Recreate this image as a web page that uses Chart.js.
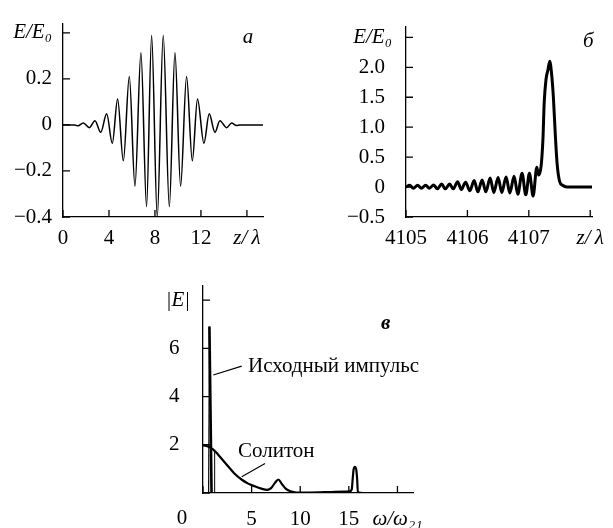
<!DOCTYPE html>
<html lang="ru">
<head>
<meta charset="UTF-8">
<title>Импульс и солитон</title>
<script src="https://cdn.jsdelivr.net/npm/chart.js@4"></script>
<style>
  body { margin: 0; background: #fff; }
  .wrap { position: relative; width: 613px; height: 528px; }
  canvas { position: absolute; }
  #chart-a { left: 0; top: 0; }
  #chart-b { left: 300px; top: 0; }
  #chart-c { left: 100px; top: 260px; }
</style>
</head>
<body>
<div class="wrap">
  <canvas id="chart-a" width="300" height="260"></canvas>
  <canvas id="chart-b" width="313" height="260"></canvas>
  <canvas id="chart-c" width="400" height="268"></canvas>
</div>
<script>
// --- panel а: initial pulse, E/E0 vs z/λ
const zA = [0, 1.0, 1.3, 1.77, 2.29, 2.78, 3.28, 3.8, 4.29, 4.75, 5.25, 5.77, 6.26, 6.78, 7.27, 7.71, 8.2,
            8.72, 9.25, 9.74, 10.23, 10.75, 11.25, 11.7, 12.26, 12.72, 13.22, 13.65, 14.23, 14.67, 15.1, 15.4, 17.4];
const eA = [0, 0, -0.004, 0.008, -0.012, 0.018, -0.032, 0.048, -0.08, 0.113, -0.156, 0.21, -0.266, 0.313, -0.355, 0.388, -0.40,
            0.388, -0.355, 0.313, -0.266, 0.21, -0.156, 0.113, -0.08, 0.048, -0.032, 0.018, -0.012, 0.008, -0.003, 0, 0];
const aXTicks = [0, 4, 8, 12, 16];
const aXLabels = ['0', '4', '8', '12', 'z/\u2009λ'];
const aYTicks = [-0.4, -0.2, 0, 0.2, 0.4];
const aYLabels = ['−0.4', '−0.2', '0', '0.2', 'E/E₀'];

// --- panel б: soliton after propagation
const zB = [4105.0, 4105.06, 4105.12, 4105.19, 4105.25, 4105.32, 4105.38, 4105.45, 4105.51, 4105.58, 4105.64, 4105.71,
            4105.77, 4105.84, 4105.90, 4105.97, 4106.04, 4106.11, 4106.17, 4106.24, 4106.30, 4106.37, 4106.43, 4106.50,
            4106.56, 4106.63, 4106.69, 4106.76, 4106.82, 4106.89, 4106.95, 4107.01, 4107.07, 4107.13, 4107.16, 4107.2,
            4107.23, 4107.25, 4107.28, 4107.31, 4107.34, 4107.37, 4107.4, 4107.43, 4107.46, 4107.5, 4107.55, 4107.62, 4108.03];
const eB = [0, 0.03, -0.02, 0.03, -0.02, 0.03, -0.02, 0.035, -0.03, 0.05, -0.03, 0.05,
            -0.03, 0.09, -0.04, 0.08, -0.06, 0.11, -0.08, 0.12, -0.08, 0.15, -0.09, 0.16,
            -0.09, 0.17, -0.1, 0.18, -0.12, 0.23, -0.13, 0.23, -0.15, 0.33, 0.2, 0.35,
            0.8, 1.4, 1.8, 1.95, 2.1, 1.9, 1.5, 0.9, 0.4, 0.1, 0.03, 0, 0];
const bXTicks = [4105, 4106, 4107, 4108];
const bXLabels = ['4105', '4106', '4107', 'z/\u2009λ'];
const bYTicks = [-0.5, 0, 0.5, 1, 1.5, 2, 2.5];
const bYLabels = ['−0.5', '0', '0.5', '1.0', '1.5', '2.0', 'E/E₀'];

// --- panel в: spectra |E| vs ω/ω21
const wSol = [0, 0.5, 1.0, 1.5, 2.0, 2.6, 3.2, 4.0, 4.6, 5.3, 6.0, 6.6, 7.0, 7.4, 7.75, 8.1, 8.5, 9.0, 9.6, 11,
              13, 14.5, 15.1, 15.3, 15.4, 15.5, 15.62, 15.75, 15.85, 15.93, 16.5, 21.6];
const eSol = [1.97, 1.93, 1.82, 1.62, 1.38, 1.1, 0.82, 0.55, 0.4, 0.28, 0.18, 0.13, 0.2, 0.42, 0.56, 0.38, 0.18, 0.07, 0.02, 0.02,
              0.04, 0.06, 0.07, 0.15, 0.6, 1.0, 1.08, 1.0, 0.6, 0.03, 0, 0];
const wPulse = [0.58, 0.66, 0.88, 1.2, 1.2];
const ePulse = [0, 6.9, 0, 0, 1.77];
const pulseWidths = [1.2, 2.6, 1, 1];
const cXTicks = [0, 5, 10, 15, 20];
const cXLabels = ['0', '5', '10', '15', 'ω/ω₂₁'];
const cYTicks = [0, 2, 4, 6, 8];
const cYLabels = ['', '2', '4', '6', '|E|'];

const SERIF = "'Liberation Serif', 'Times New Roman', serif";
Chart.defaults.font.family = SERIF;
Chart.defaults.color = '#000';

const pts = (xs, ys) => xs.map((v, i) => ({ x: v, y: ys[i] }));

// tick marks pointing into the plot
const innerTicks = {
  id: 'innerTicks',
  afterDatasetsDraw(chart, args, opts) {
    const { ctx, chartArea, scales } = chart;
    const len = opts.length || 7;
    ctx.save();
    ctx.strokeStyle = '#000';
    ctx.lineWidth = 1.3;
    ctx.beginPath();
    scales.x.ticks.forEach(t => {
      const px = scales.x.getPixelForValue(t.value);
      ctx.moveTo(px, chartArea.bottom);
      ctx.lineTo(px, chartArea.bottom - len);
    });
    scales.y.ticks.forEach(t => {
      const py = scales.y.getPixelForValue(t.value);
      ctx.moveTo(chartArea.left, py);
      ctx.lineTo(chartArea.left + len, py);
    });
    ctx.stroke();
    ctx.restore();
  }
};

// panel letters, captions and pointer lines, placed in data units
const notes = {
  id: 'notes',
  afterDatasetsDraw(chart, args, opts) {
    const { ctx, scales: { x, y } } = chart;
    ctx.save();
    ctx.fillStyle = '#000';
    ctx.strokeStyle = '#000';
    ctx.lineWidth = 1.1;
    (opts.lines || []).forEach(([x1, y1, x2, y2]) => {
      ctx.beginPath();
      ctx.moveTo(x.getPixelForValue(x1), y.getPixelForValue(y1));
      ctx.lineTo(x.getPixelForValue(x2), y.getPixelForValue(y2));
      ctx.stroke();
    });
    (opts.texts || []).forEach(t => {
      ctx.font = t.font;
      ctx.textAlign = t.align || 'left';
      ctx.textBaseline = t.baseline || 'alphabetic';
      ctx.fillText(t.text, x.getPixelForValue(t.x) + (t.dx || 0), y.getPixelForValue(t.y) + (t.dy || 0));
    });
    ctx.restore();
  }
};

function axis(min, max, ticks, labels, pad, size, isX, extra = {}) {
  const last = labels.length - 1;
  return {
    type: 'linear', min, max,
    afterBuildTicks: s => { s.ticks = ticks.map(v => ({ value: v })); },
    afterFit: s => { if (isX) s.height = size; else s.width = size; },
    grid: { display: false, drawTicks: false },
    border: { display: true, color: '#000', width: 1.3 },
    ticks: {
      padding: pad, color: '#000', maxRotation: 0, autoSkip: false,
      callback: (v, i) => (extra.hideFirst && i === 0) ? '' : labels[i] + (i < last && extra.tail ? extra.tail : ''),
      font: ctx => ({ family: SERIF, size: 21, style: ctx.index === last ? 'italic' : 'normal' })
    }
  };
}

function baseOptions(padding, scales, notesOpts) {
  return {
    responsive: false, animation: false,
    layout: { padding },
    scales,
    plugins: { legend: { display: false }, tooltip: { enabled: false }, notes: notesOpts, innerTicks: { length: 7 } },
    elements: { point: { radius: 0 } }
  };
}

new Chart(document.getElementById('chart-a'), {
  type: 'line',
  data: { datasets: [{
    data: pts(zA, eA), borderColor: '#000', borderWidth: 1.5,
    cubicInterpolationMode: 'monotone', fill: false
  }] },
  options: baseOptions({ left: 0, top: 12, right: 37, bottom: 0 }, {
    x: axis(0, 17.4, aXTicks, aXLabels, 9, 43, true),
    y: axis(-0.4, 0.44, aYTicks, aYLabels, 11, 63, false)
  }, {
    texts: [{ text: 'а', x: 16.1, y: 0.355, align: 'center', font: 'italic 21px ' + SERIF }]
  }),
  plugins: [innerTicks, notes]
});

new Chart(document.getElementById('chart-b'), {
  type: 'line',
  data: { datasets: [{
    data: pts(zB, eB), borderColor: '#000', borderWidth: 3,
    cubicInterpolationMode: 'monotone', fill: false
  }] },
  options: baseOptions({ left: 0, top: 10, right: 12, bottom: 0 }, {
    x: axis(4105, 4108.03, bXTicks, bXLabels, 9, 43, true),
    y: axis(-0.5, 2.68, bYTicks, bYLabels, 14, 106, false, { tail: '\u2004' })
  }, {
    texts: [{ text: 'б', x: 4107.97, y: 2.34, align: 'center', font: 'italic 21px ' + SERIF }]
  }),
  plugins: [innerTicks, notes]
});

new Chart(document.getElementById('chart-c'), {
  type: 'line',
  data: { datasets: [
    { data: pts(wSol, eSol), borderColor: '#000', borderWidth: 2.2, cubicInterpolationMode: 'monotone', fill: false },
    { data: pts(wPulse, ePulse), borderColor: '#000', borderWidth: 1.5, tension: 0, fill: false,
      segment: { borderWidth: ctx => pulseWidths[ctx.p0DataIndex] } }
  ] },
  options: baseOptions({ left: 0, top: 23, right: 87, bottom: 0 }, {
    x: axis(0, 21.6, cXTicks, cXLabels, 14, 35, true, { hideFirst: true }),
    y: axis(0, 8.6, cYTicks, cYLabels, 13, 103, false, { tail: '\u2002' })
  }, {
    lines: [[1.06, 4.89, 3.98, 5.26], [3.98, 0.67, 6.38, 1.22]],
    texts: [
      { text: 'Исходный импульс', x: 4.63, y: 5.0, font: '21px ' + SERIF },
      { text: 'Солитон', x: 3.6, y: 1.49, font: '21px ' + SERIF },
      { text: 'в', x: 18.8, y: 6.78, align: 'center', font: 'italic bold 21px ' + SERIF },
      { text: cXLabels[0], x: 0, y: 0, dx: -21, dy: 25, align: 'center', baseline: 'middle', font: '21px ' + SERIF }
    ]
  }),
  plugins: [innerTicks, notes]
});
</script>
</body>
</html>
